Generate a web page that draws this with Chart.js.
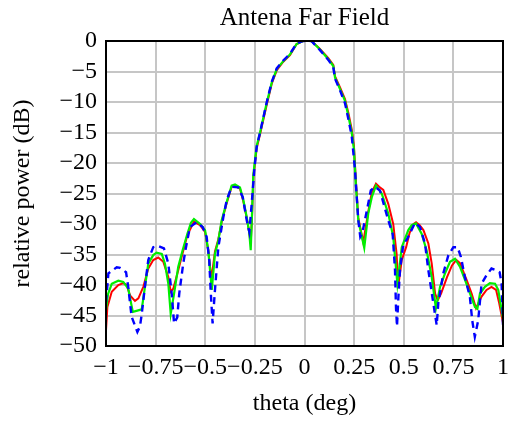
<!DOCTYPE html>
<html>
<head>
<meta charset="utf-8">
<script src="https://cdn.jsdelivr.net/npm/chart.js@4/dist/chart.umd.min.js"></script>
<style>
  html, body { margin: 0; padding: 0; background: #fff; }
  #wrap { width: 511px; height: 421px; }
</style>
</head>
<body>
<div id="wrap"><canvas id="c" width="511" height="421"></canvas></div>
<script>
const xTickLabels = ['\u22121', '\u22120.75', '\u22120.5', '\u22120.25', '0', '0.25', '0.5', '0.75', '1'];
const yTickLabels = ['\u221250', '\u221245', '\u221240', '\u221235', '\u221230', '\u221225', '\u221220', '\u221215', '\u221210', '\u22125', '0'];

const redTheta = [-1.0,-0.993,-0.971,-0.938,-0.913,-0.896,-0.879,-0.854,-0.837,-0.812,-0.787,-0.762,-0.737,-0.711,-0.686,-0.674,-0.661,-0.636,-0.619,-0.590,-0.557,-0.526,-0.501,-0.485,-0.469,-0.451,-0.434,-0.417,-0.392,-0.367,-0.350,-0.325,-0.308,-0.291,-0.278,-0.271,-0.264,-0.258,-0.241,-0.224,-0.190,-0.165,-0.140,-0.107,-0.073,-0.040,-0.007,0.035,0.078,0.120,0.145,0.154,0.179,0.204,0.221,0.238,0.249,0.259,0.271,0.296,0.321,0.339,0.360,0.376,0.397,0.422,0.447,0.464,0.472,0.490,0.512,0.529,0.550,0.562,0.580,0.599,0.624,0.641,0.658,0.671,0.688,0.718,0.743,0.765,0.783,0.817,0.842,0.864,0.892,0.917,0.942,0.965,0.981,1.0];
const redPower = [-47.4,-43.6,-41.1,-40.0,-39.7,-40.0,-41.7,-42.6,-42.2,-40.3,-37.3,-35.9,-35.5,-36.2,-38.7,-41.1,-40.6,-37.6,-35.4,-31.8,-29.6,-30.2,-31.3,-34.3,-39.0,-34.5,-32.5,-29.6,-26.6,-23.9,-23.7,-24.2,-26.3,-29.0,-31.5,-33.2,-28.5,-22.4,-17.6,-15.3,-10.4,-7.0,-4.8,-3.4,-2.3,-0.5,0,0,-1.3,-2.8,-3.9,-5.8,-7.6,-9.5,-11.8,-14.5,-17.2,-23.0,-29.0,-33.0,-28.0,-24.8,-23.4,-23.9,-24.4,-26.7,-30.0,-34.9,-40.3,-35.9,-33.8,-31.5,-30.0,-29.7,-30.2,-31.0,-33.2,-36.5,-41.4,-42.5,-41.4,-38.7,-36.8,-35.9,-36.4,-39.2,-41.4,-43.8,-41.9,-40.8,-40.3,-40.8,-43.0,-46.2];

const greenTheta = [-1.0,-0.990,-0.971,-0.938,-0.913,-0.888,-0.865,-0.842,-0.820,-0.787,-0.762,-0.745,-0.719,-0.703,-0.686,-0.674,-0.657,-0.636,-0.614,-0.590,-0.572,-0.557,-0.526,-0.501,-0.485,-0.467,-0.451,-0.434,-0.417,-0.392,-0.367,-0.350,-0.325,-0.308,-0.291,-0.278,-0.271,-0.264,-0.258,-0.241,-0.224,-0.190,-0.165,-0.140,-0.107,-0.073,-0.040,-0.007,0.035,0.078,0.120,0.145,0.154,0.179,0.204,0.221,0.238,0.249,0.259,0.271,0.301,0.321,0.339,0.360,0.389,0.422,0.447,0.468,0.490,0.523,0.540,0.562,0.590,0.615,0.641,0.662,0.683,0.708,0.733,0.758,0.783,0.809,0.834,0.859,0.871,0.884,0.909,0.934,0.960,0.976,0.993,1.0];
const greenPower = [-44.1,-41.5,-39.8,-39.3,-39.5,-40.6,-44.4,-44.2,-44.0,-36.5,-35.1,-34.7,-34.9,-36.5,-39.8,-44.7,-41.4,-37.0,-34.3,-31.6,-29.8,-29.2,-30.0,-31.0,-34.3,-40.8,-34.9,-32.7,-29.4,-26.4,-23.7,-23.5,-24.0,-26.1,-28.9,-31.5,-34.3,-28.0,-22.0,-17.2,-15.0,-10.1,-6.8,-4.6,-3.3,-2.2,-0.5,0,0,-1.4,-3.0,-4.1,-6.0,-7.9,-9.8,-12.3,-15.0,-17.7,-23.7,-29.4,-33.9,-28.3,-25.6,-23.7,-25.0,-28.3,-32.1,-39.8,-33.8,-31.0,-30.2,-29.9,-31.6,-34.3,-38.7,-43.8,-40.3,-38.1,-36.2,-35.7,-37.0,-39.2,-41.4,-43.6,-43.9,-41.4,-40.3,-39.7,-39.8,-40.8,-44.1,-45.4];

const blueTheta = [-1.0,-0.988,-0.946,-0.929,-0.899,-0.888,-0.871,-0.842,-0.829,-0.820,-0.804,-0.787,-0.762,-0.737,-0.708,-0.686,-0.669,-0.657,-0.641,-0.631,-0.611,-0.597,-0.577,-0.543,-0.513,-0.493,-0.480,-0.473,-0.463,-0.451,-0.434,-0.409,-0.392,-0.367,-0.334,-0.311,-0.291,-0.278,-0.266,-0.253,-0.241,-0.224,-0.190,-0.165,-0.140,-0.107,-0.073,-0.040,-0.007,0.035,0.078,0.120,0.145,0.154,0.179,0.204,0.221,0.238,0.254,0.271,0.281,0.291,0.314,0.334,0.355,0.380,0.422,0.444,0.456,0.461,0.466,0.473,0.481,0.498,0.515,0.557,0.582,0.607,0.624,0.649,0.666,0.674,0.699,0.725,0.750,0.771,0.788,0.808,0.833,0.845,0.858,0.875,0.892,0.917,0.942,0.968,0.983,0.993,1.0];
const bluePower = [-42.8,-38.1,-37.1,-37.2,-37.9,-40.3,-45.2,-47.7,-46.8,-44.8,-40.3,-35.9,-33.8,-33.6,-34.0,-36.5,-41.4,-46.3,-45.3,-41.4,-36.5,-33.8,-30.5,-29.7,-30.5,-32.1,-35.9,-40.8,-46.3,-40.8,-33.8,-28.9,-26.1,-23.9,-24.0,-25.6,-29.4,-31.3,-26.7,-21.2,-17.4,-15.0,-10.0,-6.7,-4.5,-3.2,-2.1,-0.4,0,0,-1.5,-3.1,-4.3,-6.2,-8.1,-10.2,-12.8,-15.6,-21.0,-29.4,-32.1,-31.5,-27.8,-24.5,-23.9,-24.5,-29.4,-31.6,-37.6,-43.8,-46.8,-42.0,-37.6,-33.2,-32.6,-29.8,-30.5,-33.2,-37.6,-43.0,-46.6,-43.0,-38.1,-35.1,-33.8,-33.8,-35.4,-38.7,-41.9,-45.8,-48.5,-45.8,-39.8,-38.4,-37.3,-37.6,-37.9,-39.8,-46.5];

const pts = (xs, ys) => xs.map((x, i) => ({ x: x, y: ys[i] }));
const serif = "'Liberation Serif', 'Times New Roman', serif";

const frame = {
  id: 'frame',
  afterDraw(chart) {
    const a = chart.chartArea, ctx = chart.ctx;
    ctx.save();
    ctx.strokeStyle = '#000';
    ctx.lineWidth = 2;
    ctx.strokeRect(a.left, a.top, a.right - a.left, a.bottom - a.top);
    ctx.restore();
  }
};

new Chart(document.getElementById('c'), {
  type: 'line',
  data: {
    datasets: [
      { label: 'red', data: pts(redTheta, redPower), borderColor: '#ff0000', borderWidth: 2, pointRadius: 0, tension: 0, order: 3 },
      { label: 'green', data: pts(greenTheta, greenPower), borderColor: '#00ee00', borderWidth: 2.2, pointRadius: 0, tension: 0, order: 2 },
      { label: 'blue', data: pts(blueTheta, bluePower), borderColor: '#0000ff', borderWidth: 2.4, borderDash: [7, 5], pointRadius: 0, tension: 0, order: 1 }
    ]
  },
  options: {
    responsive: false,
    animation: false,
    layout: { padding: { left: 0, right: 0, top: 0, bottom: 0 } },
    plugins: {
      legend: { display: false },
      tooltip: { enabled: false },
      title: {
        display: true,
        text: 'Antena Far Field',
        fullSize: false,
        color: '#000',
        font: { family: serif, size: 25, weight: 'normal' },
        padding: { top: 3, bottom: 8 }
      }
    },
    scales: {
      x: {
        type: 'linear',
        min: -1, max: 1,
        afterFit(s) { s.height = 75; s.paddingRight = 8; s.paddingLeft = 0; },
        ticks: {
          stepSize: 0.25,
          autoSkip: false,
          maxRotation: 0, minRotation: 0,
          padding: 7,
          color: '#000',
          font: { family: serif, size: 24 },
          callback: (v, i) => xTickLabels[i]
        },
        grid: { color: '#c6c6c6', lineWidth: 2, drawTicks: false },
        border: { color: '#000', width: 2 },
        title: {
          display: true, text: 'theta (deg)', color: '#000',
          font: { family: serif, size: 24 },
          padding: { top: 0, bottom: 3 }
        }
      },
      y: {
        type: 'linear',
        min: -50, max: 0,
        afterFit(s) { s.width = 106; },
        ticks: {
          stepSize: 5,
          autoSkip: false,
          padding: 9,
          color: '#000',
          font: { family: serif, size: 24 },
          callback: (v, i) => yTickLabels[i]
        },
        grid: { color: '#c6c6c6', lineWidth: 2, drawTicks: false },
        border: { color: '#000', width: 2 },
        title: {
          display: true, text: 'relative power (dB)', color: '#000',
          font: { family: serif, size: 24 },
          padding: { top: 8, bottom: 0 }
        }
      }
    }
  },
  plugins: [frame]
});
</script>
</body>
</html>
